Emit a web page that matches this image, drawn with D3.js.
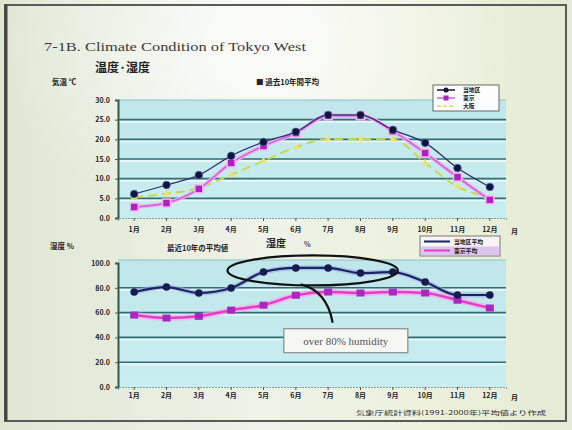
<!DOCTYPE html>
<html>
<head>
<meta charset="utf-8">
<script src="https://cdn.jsdelivr.net/npm/d3@7"></script>
<style>
  html, body { margin: 0; padding: 0; background: #fff; }
  svg { display: block; }
  .tick text { font-family: "Noto Sans CJK JP", "Noto Sans", sans-serif; font-weight: bold; fill: #222; }
</style>
</head>
<body>
<svg id="chart" width="572" height="430"></svg>
<script>
// Monthly categories
const months = ["1月","2月","3月","4月","5月","6月","7月","8月","9月","10月","11月","12月"];

// Mean air temperature (℃)
const tempLocal = [6.1, 8.4, 10.9, 15.8, 19.3, 21.9, 26.2, 26.2, 22.4, 19.1, 12.7, 7.9];
const tempTokyo = [2.8, 3.8, 7.4, 14.0, 18.3, 21.6, 26.0, 26.0, 22.1, 16.5, 10.4, 4.6];
const tempOsaka = [5.3, 6.2, 7.6, 11.0, 14.5, 18.0, 20.0, 20.0, 20.0, 14.0, 8.0, 5.3];

// Mean relative humidity (%)
const humLocal = [76.6, 80.6, 75.8, 79.8, 92.7, 96.0, 96.0, 91.9, 92.7, 84.7, 74.2, 74.2];
const humTokyo = [58.0, 55.6, 57.0, 62.0, 66.0, 74.0, 76.6, 75.8, 76.6, 75.8, 70.0, 63.7];

// Axis tick values
const tempTicks = [0, 5, 10, 15, 20, 25, 30];
const humTicks = [0, 20, 40, 60, 80, 100];

// Legend labels
const tempNames = ["当地区", "東京", "大阪"];
const humNames = ["当地区平均", "東京平均"];

const svg = d3.select("#chart");
const defs = svg.append("defs");

// Slide background
const bg = defs.append("linearGradient").attr("id", "bg").attr("x1", 0).attr("x2", 1).attr("y1", 0).attr("y2", 0);
bg.append("stop").attr("offset", "0").attr("stop-color", "#dfe7d3");
bg.append("stop").attr("offset", "0.45").attr("stop-color", "#eef2e8");
bg.append("stop").attr("offset", "0.75").attr("stop-color", "#edf1dc");
bg.append("stop").attr("offset", "1").attr("stop-color", "#e4ead6");
const glow = defs.append("radialGradient").attr("id", "glow").attr("cx", 0.45).attr("cy", 0.1).attr("r", 0.45);
glow.append("stop").attr("offset", "0").attr("stop-color", "#ffffff").attr("stop-opacity", 0.8);
glow.append("stop").attr("offset", "1").attr("stop-color", "#ffffff").attr("stop-opacity", 0);

// Plot-area fill
const pf = defs.append("linearGradient").attr("id", "plotfill").attr("x1", 0).attr("x2", 0).attr("y1", 0).attr("y2", 1);
pf.append("stop").attr("offset", "0").attr("stop-color", "#bfe6ea");
pf.append("stop").attr("offset", "1").attr("stop-color", "#c9eef0");

svg.append("rect").attr("width", 572).attr("height", 430).attr("fill", "url(#bg)");
svg.append("rect").attr("width", 572).attr("height", 430).attr("fill", "url(#glow)");
// Frame
svg.append("rect").attr("x", 5).attr("y", 5).attr("width", 561).attr("height", 416)
  .attr("fill", "none").attr("stroke", "#5a5a5a").attr("stroke-width", 2);
svg.append("line").attr("x1", 6).attr("x2", 6).attr("y1", 5).attr("y2", 421)
  .attr("stroke", "#444").attr("stroke-width", 3);

// Titles
svg.append("text").attr("x", 44).attr("y", 51)
  .attr("font-family", "Liberation Serif, serif").attr("font-size", 13).attr("fill", "#3a3a3a")
  .attr("textLength", 262).attr("lengthAdjust", "spacingAndGlyphs")
  .text("7-1B. Climate Condition of Tokyo West");
svg.append("text").attr("x", 95).attr("y", 72)
  .attr("font-family", "Noto Sans CJK JP").attr("font-weight", "bold").attr("font-size", 12).attr("fill", "#222")
  .text("温度·湿度");

const x = d3.scaleBand().domain(months).range([118, 506]);
const cx = d => x(d) + x.bandwidth() / 2;

function panel(yScale, ticks, top, bottom, xPad) {
  const g = svg.append("g");
  g.append("rect").attr("x", 118).attr("y", top).attr("width", 388).attr("height", bottom - top)
    .attr("fill", "url(#plotfill)");
  // gridlines with a light highlight under each
  g.selectAll("line.hl").data(ticks.slice(1, -1)).join("line")
    .attr("x1", 118).attr("x2", 506).attr("y1", d => yScale(d) + 2).attr("y2", d => yScale(d) + 2)
    .attr("stroke", "#e6f8f8").attr("stroke-width", 2);
  g.selectAll("line.gr").data(ticks.slice(1, -1)).join("line")
    .attr("x1", 118).attr("x2", 506).attr("y1", d => yScale(d)).attr("y2", d => yScale(d))
    .attr("stroke", "#2f6f74").attr("stroke-width", 1.6);
  g.append("line").attr("x1", 118).attr("x2", 506).attr("y1", top).attr("y2", top)
    .attr("stroke", "#8fbfc4").attr("stroke-width", 1);

  const ya = g.append("g").attr("transform", "translate(118,0)")
    .call(d3.axisLeft(yScale).tickValues(ticks).tickFormat(d3.format(".1f")).tickSize(3).tickPadding(5));
  ya.select(".domain").attr("stroke", "#2c5a50").attr("stroke-width", 2);
  ya.selectAll(".tick line").attr("stroke", "#555");
  ya.selectAll(".tick text").attr("font-size", 7);

  const xa = g.append("g").attr("transform", `translate(0,${bottom})`)
    .call(d3.axisBottom(x).tickSize(3).tickPadding(xPad));
  xa.select(".domain").attr("stroke", "#7aa0a0").attr("stroke-dasharray", "2,1");
  xa.selectAll(".tick line").attr("stroke", "#555");
  xa.selectAll(".tick text").attr("font-size", 7);
  g.append("text").attr("x", 511).attr("y", bottom + xPad + 10)
    .attr("font-family", "Noto Sans CJK JP").attr("font-weight", "bold").attr("font-size", 7).attr("fill", "#222")
    .text("月");
  return g;
}

// ---------- Temperature panel ----------
const yT = d3.scaleLinear().domain([0, 30]).range([218, 100]);
const gT = panel(yT, tempTicks, 100, 218, 6);

svg.append("text").attr("x", 52).attr("y", 85)
  .attr("font-family", "Noto Sans CJK JP").attr("font-weight", "bold").attr("font-size", 7.5).attr("fill", "#222")
  .text("気温  ℃");
svg.append("text").attr("x", 256).attr("y", 85)
  .attr("font-family", "Noto Sans CJK JP").attr("font-weight", "bold").attr("font-size", 7.5).attr("fill", "#222")
  .text("■ 過去10年間平均");

const lineT = d3.line().x((d, i) => cx(months[i])).y(d => yT(d)).curve(d3.curveMonotoneX);

// third series: pale yellow dashed line
gT.append("path").datum(tempOsaka).attr("d", lineT).attr("fill", "none")
  .attr("stroke", "#c8d84a").attr("stroke-width", 2).attr("stroke-dasharray", "9,5");
gT.selectAll("path.tri").data(tempOsaka).join("path")
  .attr("transform", (d, i) => `translate(${cx(months[i])},${yT(d)})`)
  .attr("d", d3.symbol(d3.symbolTriangle, 22)).attr("fill", "#f0e070");

// magenta series
gT.append("path").datum(tempTokyo).attr("d", lineT).attr("fill", "none")
  .attr("stroke", "#f0b0f0").attr("stroke-width", 4);
gT.append("path").datum(tempTokyo).attr("d", lineT).attr("fill", "none")
  .attr("stroke", "#c860d8").attr("stroke-width", 1.5);
gT.selectAll("rect.sq").data(tempTokyo).join("rect")
  .attr("x", (d, i) => cx(months[i]) - 4).attr("y", d => yT(d) - 4)
  .attr("width", 8).attr("height", 8).attr("fill", "#b020c0").attr("stroke", "#f4b8f4").attr("stroke-width", 1.5);

// local series
gT.append("path").datum(tempLocal).attr("d", lineT).attr("fill", "none")
  .attr("stroke", "#2a3070").attr("stroke-width", 1.2);
gT.selectAll("circle.pt").data(tempLocal).join("circle")
  .attr("cx", (d, i) => cx(months[i])).attr("cy", d => yT(d)).attr("r", 3.8)
  .attr("fill", "#10143c").attr("stroke", "#5060a0").attr("stroke-width", 0.8);

// temperature legend
const lgT = svg.append("g").attr("transform", "translate(433,85)");
lgT.append("rect").attr("width", 66).attr("height", 26).attr("fill", "#fdfdfd").attr("stroke", "#666");
const lgColors = ["#10143c", "#d060d8", "#d8d860"];
tempNames.forEach((n, i) => {
  const yy = 5 + i * 8;
  lgT.append("line").attr("x1", 4).attr("x2", 22).attr("y1", yy).attr("y2", yy)
    .attr("stroke", lgColors[i]).attr("stroke-width", 1.5).attr("stroke-dasharray", i === 2 ? "4,2" : null);
  if (i === 0) lgT.append("circle").attr("cx", 13).attr("cy", yy).attr("r", 2.5).attr("fill", lgColors[0]);
  if (i === 1) lgT.append("rect").attr("x", 10.5).attr("y", yy - 2.5).attr("width", 5).attr("height", 5).attr("fill", "#b020c0");
  lgT.append("text").attr("x", 30).attr("y", yy + 2.2)
    .attr("font-family", "Noto Sans CJK JP").attr("font-weight", "bold").attr("font-size", 5.8).attr("fill", "#222")
    .text(n);
});

// ---------- Humidity panel ----------
const yH = d3.scaleLinear().domain([0, 100]).range([387, 263]);
const gH = panel(yH, humTicks, 260, 387, 3);

svg.append("text").attr("x", 50).attr("y", 249)
  .attr("font-family", "Noto Sans CJK JP").attr("font-weight", "bold").attr("font-size", 7.5).attr("fill", "#222")
  .text("湿度  %");
svg.append("rect").attr("x", 164).attr("y", 241).attr("width", 90).attr("height", 12).attr("fill", "#f2f0e4");
svg.append("text").attr("x", 167).attr("y", 251)
  .attr("font-family", "Noto Sans CJK JP").attr("font-weight", "bold").attr("font-size", 7.5).attr("fill", "#222")
  .text("最近10年の平均値");
svg.append("text").attr("x", 266).attr("y", 247)
  .attr("font-family", "Noto Sans CJK JP").attr("font-weight", "bold").attr("font-size", 10).attr("fill", "#222")
  .text("湿度");
svg.append("text").attr("x", 304).attr("y", 247)
  .attr("font-family", "Noto Sans CJK JP").attr("font-weight", "bold").attr("font-size", 7).attr("fill", "#444")
  .text("%");

const lineH = d3.line().x((d, i) => cx(months[i])).y(d => yH(d)).curve(d3.curveMonotoneX);

gH.append("path").datum(humTokyo).attr("d", lineH).attr("fill", "none")
  .attr("stroke", "#f4a8ec").attr("stroke-width", 6).attr("stroke-opacity", 0.7);
gH.append("path").datum(humTokyo).attr("d", lineH).attr("fill", "none")
  .attr("stroke", "#e83cc8").attr("stroke-width", 2.5);
gH.selectAll("rect.sq").data(humTokyo).join("rect")
  .attr("x", (d, i) => cx(months[i]) - 4).attr("y", d => yH(d) - 3.5)
  .attr("width", 8).attr("height", 7).attr("fill", "#a828c0");

gH.append("path").datum(humLocal).attr("d", lineH).attr("fill", "none")
  .attr("stroke", "#9aa8e0").attr("stroke-width", 5).attr("stroke-opacity", 0.6);
gH.append("path").datum(humLocal).attr("d", lineH).attr("fill", "none")
  .attr("stroke", "#1a2460").attr("stroke-width", 2.2);
gH.selectAll("circle.pt").data(humLocal).join("circle")
  .attr("cx", (d, i) => cx(months[i])).attr("cy", d => yH(d)).attr("r", 3.8).attr("fill", "#161c50");

// humidity legend
const lgH = svg.append("g").attr("transform", "translate(420,236)");
lgH.append("rect").attr("width", 80).attr("height", 20).attr("fill", "#f6f4f0").attr("stroke", "#777");
lgH.append("rect").attr("x", 1).attr("y", 10.5).attr("width", 78).attr("height", 8.5).attr("fill", "#dcc4f0");
humNames.forEach((n, i) => {
  const yy = 5.5 + i * 9;
  lgH.append("line").attr("x1", 4).attr("x2", 30).attr("y1", yy).attr("y2", yy)
    .attr("stroke", i === 0 ? "#1a2460" : "#e83cc8").attr("stroke-width", 2);
  lgH.append("text").attr("x", 34).attr("y", yy + 2.2)
    .attr("font-family", "Noto Sans CJK JP").attr("font-weight", "bold").attr("font-size", 5.8).attr("fill", "#222")
    .text(n);
});

// Annotation: months above 80% humidity
const ex0 = cx("5月") - 36, ex1 = cx("9月") + 5;
const ecx = (ex0 + ex1) / 2, ecy = yH(94);
svg.append("ellipse").attr("cx", ecx).attr("cy", ecy).attr("rx", (ex1 - ex0) / 2).attr("ry", 15)
  .attr("fill", "none").attr("stroke", "#111").attr("stroke-width", 2.2);
const bx = cx("6月") - 12, by = yH(47);
svg.append("path")
  .attr("d", `M${ecx - 12},${ecy + 14} Q${ecx + 14},${ecy + 20} ${ecx + 20},${by - 6}`)
  .attr("fill", "none").attr("stroke", "#111").attr("stroke-width", 2.2);
svg.append("rect").attr("x", bx).attr("y", by).attr("width", 124).attr("height", 24)
  .attr("fill", "#f6f6f2").attr("stroke", "#8a8a8a").attr("stroke-width", 1.2);
svg.append("text").attr("x", bx + 62).attr("y", by + 16).attr("text-anchor", "middle")
  .attr("font-family", "Liberation Serif, serif").attr("font-size", 11).attr("fill", "#555")
  .text("over 80% humidity");

// Source note
svg.append("text").attr("x", 356).attr("y", 415)
  .attr("font-family", "Noto Sans CJK JP").attr("font-size", 6).attr("fill", "#333")
  .attr("textLength", 190).attr("lengthAdjust", "spacingAndGlyphs")
  .text("気象庁統計資料(1991-2000年)平均値より作成");
</script>
</body>
</html>
